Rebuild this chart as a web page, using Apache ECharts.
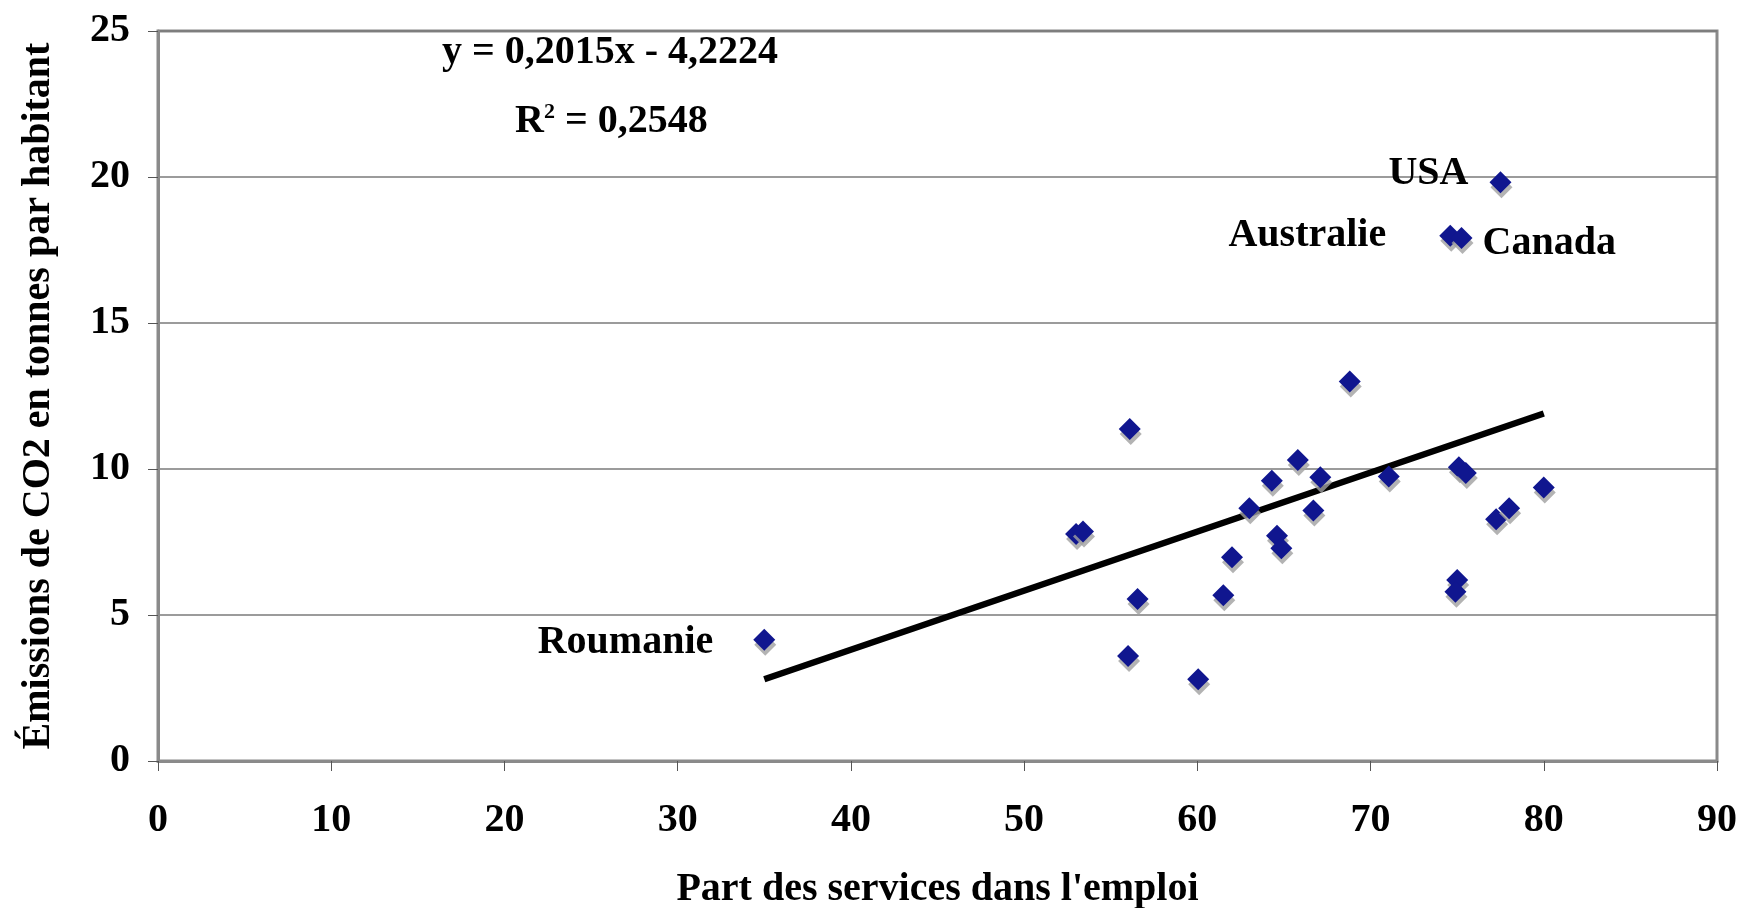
<!DOCTYPE html>
<html lang="fr">
<head>
    <meta charset="UTF-8">
    <title>Emissions de CO2 et part des services</title>
    <script src="https://cdn.jsdelivr.net/npm/echarts@6/dist/echarts.min.js"></script>
    <style>
        html, body { margin: 0; padding: 0; background: #ffffff; }
        #chart { width: 1740px; height: 908px; }
    </style>
</head>
<body>
    <div id="chart"></div>
    <script>
        // part des services dans l'emploi (%)
        const servicesShare = [35.0, 53.0, 53.4, 56.1, 56.0, 56.55, 60.05, 61.5, 62.0, 63.0, 64.3, 64.6, 64.85, 65.8,
            66.7, 67.1, 68.8, 71.05, 74.6, 75.25, 77.5, 75.1, 75.5, 75.0, 74.9, 77.25, 78.0, 80.0];
        // emissions de CO2 (tonnes par habitant)
        const co2PerHead = [4.15, 7.77, 7.86, 11.37, 3.6, 5.55, 2.8, 5.68, 6.98, 8.66, 9.6, 7.71, 7.29, 10.31,
            8.58, 9.72, 13.0, 9.74, 17.99, 17.91, 19.82, 10.06, 9.86, 6.2, 5.8, 8.28, 8.66, 9.37];
        const countryNames = ['Roumanie', '', '', '', '', '', '', '', '', '', '', '', '', '',
            '', '', '', '', 'Australie', 'Canada', 'USA', '', '', '', '', '', '', ''];

        // droite de tendance lineaire
        const trendX = [35, 80];
        const trendY = [2.8, 11.9];

        const xTicks = { min: 0, max: 90, interval: 10 };
        const yTicks = { min: 0, max: 25, interval: 5 };

        const font = 'Liberation Serif';
        const bold = { fontFamily: font, fontWeight: 'bold', fontSize: 40, color: '#000' };

        // ou placer chaque etiquette autour de son point
        const labelPlace = {
            Roumanie: { position: 'left', distance: 40, offset: [0, 3] },
            Australie: { position: 'left', distance: 53, offset: [0, 0] },
            Canada: { position: 'right', distance: 10, offset: [0, 6] },
            USA: { position: 'left', distance: 21, offset: [0, -9] }
        };

        const points = servicesShare.map((x, i) => {
            const name = countryNames[i];
            const item = { value: [x, co2PerHead[i]], name: name };
            if (name) {
                item.label = Object.assign({ show: true, formatter: '{b}' }, bold, labelPlace[name]);
            }
            return item;
        });

        const chart = echarts.init(document.getElementById('chart'));

        chart.setOption({
            animation: false,
            textStyle: { fontFamily: font },
            grid: {
                left: 158, right: 23, top: 31, bottom: 147,
                outerBoundsMode: 'none',
                containLabel: false,
                show: true,
                borderColor: '#8a8a8a',
                borderWidth: 3
            },
            title: [
                {
                    text: 'y = 0,2015x - 4,2224',
                    left: 437, top: 28,
                    textStyle: bold
                },
                {
                    text: 'R{sup|2} = 0,2548',
                    left: 510, top: 96,
                    textStyle: Object.assign({}, bold, {
                        rich: {
                            sup: { fontFamily: font, fontWeight: 'bold', fontSize: 22, color: '#000', verticalAlign: 'top', padding: [0, 0, 20, 0] }
                        }
                    })
                }
            ],
            xAxis: {
                type: 'value',
                min: xTicks.min, max: xTicks.max, interval: xTicks.interval,
                name: "Part des services dans l'emploi",
                nameLocation: 'middle',
                nameGap: 109,
                nameTextStyle: bold,
                axisLine: { lineStyle: { color: '#8a8a8a', width: 3 } },
                axisTick: { show: true, length: 10, lineStyle: { color: '#555', width: 1 } },
                axisLabel: Object.assign({ margin: 40 }, bold),
                splitLine: { show: false }
            },
            yAxis: {
                type: 'value',
                min: yTicks.min, max: yTicks.max, interval: yTicks.interval,
                name: 'Émissions de CO2 en tonnes par habitant',
                nameLocation: 'middle',
                nameRotate: 90,
                nameGap: 99,
                nameTextStyle: bold,
                axisLine: { show: true, lineStyle: { color: '#8a8a8a', width: 3 } },
                axisTick: { show: true, length: 10, lineStyle: { color: '#555', width: 1 } },
                axisLabel: Object.assign({ margin: 28 }, bold),
                splitLine: { show: true, lineStyle: { color: '#7a7a7a', width: 1.5 } }
            },
            series: [
                {
                    type: 'line',
                    data: trendX.map((x, i) => [x, trendY[i]]),
                    symbol: 'none',
                    lineStyle: { color: '#000', width: 6.5 },
                    z: 2
                },
                {
                    type: 'scatter',
                    data: points,
                    symbol: 'diamond',
                    symbolSize: [22, 22],
                    itemStyle: {
                        color: '#10168f',
                        opacity: 1,
                        shadowColor: 'rgba(160,160,160,0.8)',
                        shadowBlur: 0,
                        shadowOffsetX: 1,
                        shadowOffsetY: 5
                    },
                    z: 3
                }
            ]
        });
    </script>
</body>
</html>
